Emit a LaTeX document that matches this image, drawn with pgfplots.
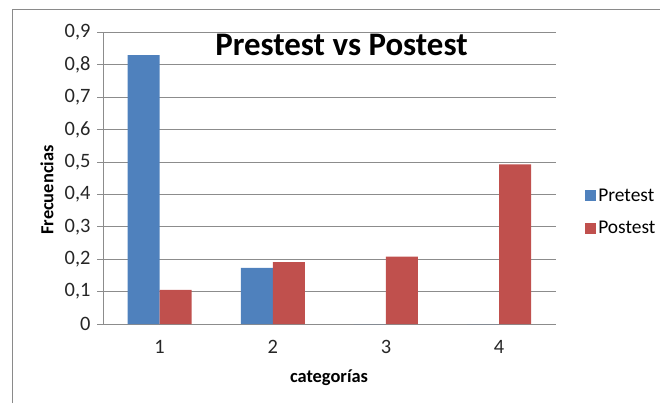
\documentclass[border=0pt]{standalone}
\usepackage{pgfplots}
\pgfplotsset{compat=1.18}
\usepackage{fontspec}
\setmainfont{Carlito}
\definecolor{preblue}{HTML}{4F81BD}
\definecolor{postred}{HTML}{C0504D}
\definecolor{gridgray}{HTML}{8C8C8C}
\definecolor{framegray}{HTML}{8A8A8A}

\begin{document}
\begin{tikzpicture}[x=1bp,y=1bp]
\path[use as bounding box] (0,0) rectangle (660,403);
% outer chart frame
\draw[framegray, line width=1bp] (12,0) -- (12,393) -- (660,393);
\begin{axis}[
  at={(103bp,79bp)}, anchor=south west,
  scale only axis, width=452.7bp, height=291.6bp,
  ybar=0pt, bar width=32bp,
  xmin=0.5, xmax=4.5, ymin=0, ymax=0.9,
  xtick={1,2,3,4},
  major x tick style={draw=none},
  extra x ticks={0.5,1.5,2.5,3.5,4.5},
  extra x tick labels={},
  extra x tick style={major tick length=6bp, tick align=outside, tick style={draw=gridgray, line width=0.8bp}},
  ytick={0,0.1,...,0.9},
  ymajorgrids,
  grid style={gridgray, line width=0.8bp},
  tick align=outside,
  major tick length=6bp,
  ytick style={draw=gridgray, line width=0.8bp},
  axis x line*=bottom, axis y line*=left,
  axis line style={gridgray, line width=0.8bp, -},
  tick label style={font=\fontsize{20.5}{22}\selectfont, text=black!85},
  yticklabel style={xshift=-3bp},
  xticklabel style={yshift=-7bp},
  /pgf/number format/.cd, use comma, fixed, precision=1, assume math mode=true,
  /pgfplots/.cd,
  legend style={at={(1.065,0.384)}, anchor=west, draw=none, fill=none,
    font=\fontsize{19.5}{20}\selectfont, row sep=15bp, inner sep=0pt,
    legend cell align=left},
  legend image code/.code={\fill[#1] (0bp,-5.5bp) rectangle (11bp,5.5bp);},
]
\addplot[fill=preblue, draw=none] coordinates {(1,0.830) (2,0.173) (3,0) (4,0)};
\addplot[fill=postred, draw=none] coordinates {(1,0.105) (2,0.191) (3,0.208) (4,0.493)};
\legend{Pretest, Postest}
\end{axis}
% titles
\node[font=\bfseries\fontsize{33}{35}\selectfont, anchor=base] at (341.5,348) {Prestest vs Postest};
\node[font=\bfseries\fontsize{18.5}{20}\selectfont, rotate=90] at (47,213) {Frecuencias};
\node[font=\bfseries\fontsize{18.5}{20}\selectfont] at (329,25) {categorías};
\end{tikzpicture}
\end{document}
